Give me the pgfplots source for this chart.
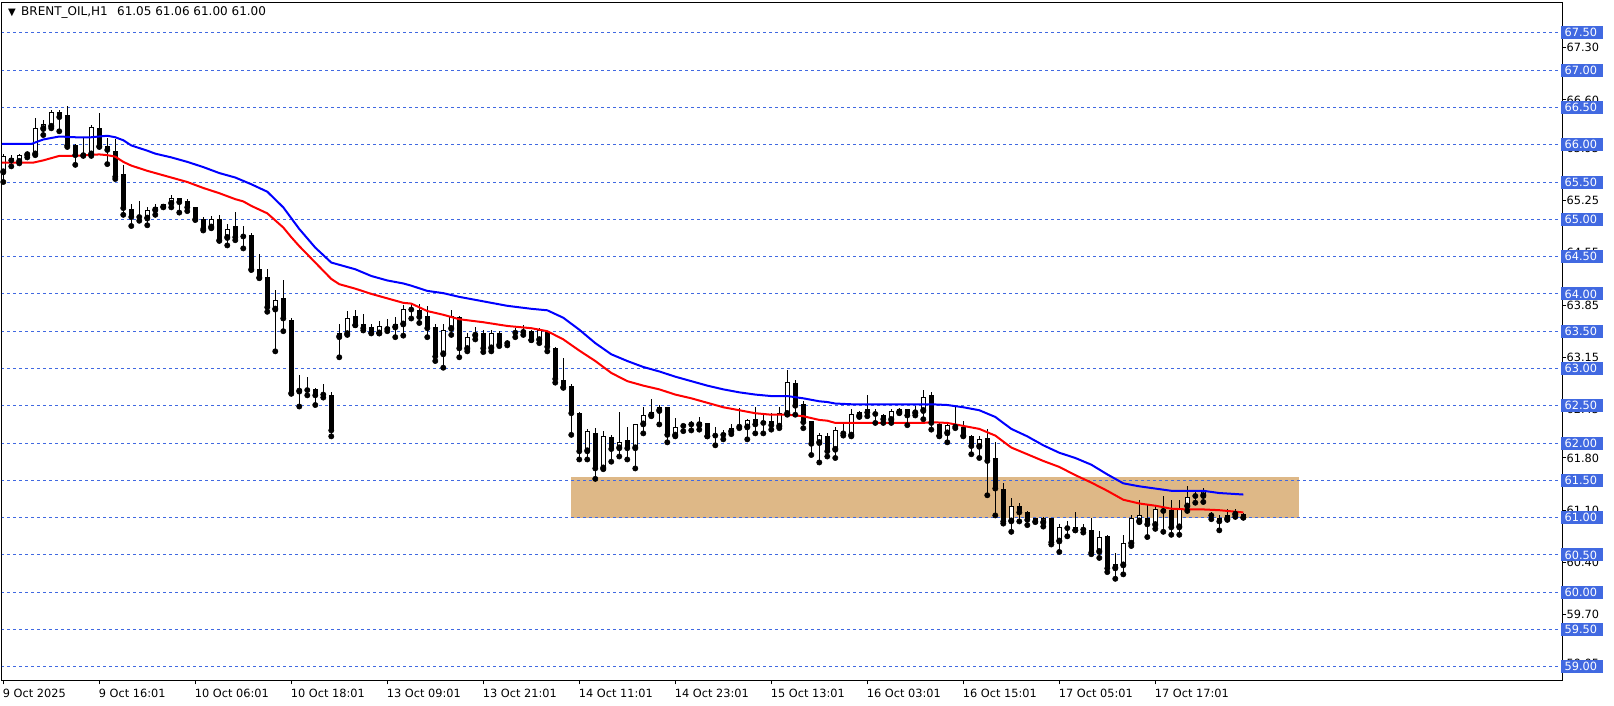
\documentclass[border=0pt]{standalone}
\usepackage{pgfplots}
\pgfplotsset{compat=1.18}
\usepackage{pgfplotstable}
\usepackage{fontspec}
\setmainfont{DejaVu Sans}
\definecolor{gridblue}{HTML}{4169E1}
\definecolor{boxtan}{HTML}{DEB887}
\definecolor{mablue}{HTML}{0000FF}
\definecolor{mared}{HTML}{FF0000}

\pgfplotstableread{
i O H L C
0 65.63 65.88 65.50 65.85
1 65.82 65.86 65.71 65.79
2 65.77 65.88 65.75 65.86
3 65.86 65.90 65.83 65.89
4 65.87 66.36 65.86 66.22
5 66.21 66.33 66.13 66.28
6 66.24 66.46 66.22 66.44
7 66.44 66.46 66.18 66.37
8 66.40 66.52 65.97 65.99
9 65.99 66.01 65.73 65.86
10 65.87 66.10 65.85 65.86
11 65.87 66.26 65.85 66.24
12 66.23 66.42 65.97 65.98
13 65.98 66.09 65.74 65.93
14 65.92 66.07 65.54 65.57
15 65.61 65.73 65.06 65.15
16 65.14 65.21 64.91 65.03
17 65.04 65.24 64.98 65.03
18 65.01 65.16 64.92 65.12
19 65.12 65.21 65.06 65.17
20 65.20 65.21 65.16 65.17
21 65.21 65.33 65.16 65.28
22 65.28 65.29 65.09 65.23
23 65.24 65.27 65.11 65.16
24 65.17 65.17 64.99 65.00
25 65.01 65.03 64.85 64.87
26 64.89 65.04 64.88 65.00
27 65.01 65.06 64.71 64.72
28 64.75 64.94 64.65 64.87
29 64.91 65.10 64.72 64.76
30 64.78 64.91 64.61 64.77
31 64.79 64.81 64.32 64.33
32 64.34 64.53 64.21 64.22
33 64.22 64.33 63.76 63.82
34 63.79 64.05 63.23 63.92
35 63.94 64.18 63.50 63.67
36 63.65 63.67 62.66 62.67
37 62.69 62.91 62.49 62.72
38 62.71 62.88 62.64 62.71
39 62.72 62.74 62.51 62.64
40 62.66 62.79 62.61 62.65
41 62.65 62.68 62.09 62.17
42 63.42 63.60 63.15 63.48
43 63.46 63.77 63.45 63.68
44 63.70 63.78 63.58 63.58
45 63.60 63.73 63.51 63.54
46 63.56 63.60 63.47 63.48
47 63.47 63.63 63.47 63.57
48 63.56 63.66 63.50 63.53
49 63.55 63.69 63.42 63.60
50 63.59 63.85 63.44 63.80
51 63.79 63.86 63.67 63.79
52 63.79 63.86 63.61 63.69
53 63.71 63.84 63.42 63.54
54 63.56 63.59 63.10 63.16
55 63.19 63.59 63.01 63.52
56 63.53 63.78 63.45 63.71
57 63.69 63.71 63.15 63.27
58 63.26 63.47 63.23 63.42
59 63.44 63.56 63.39 63.47
60 63.47 63.52 63.22 63.27
61 63.27 63.51 63.23 63.48
62 63.47 63.50 63.30 63.32
63 63.34 63.37 63.31 63.36
64 63.48 63.54 63.42 63.48
65 63.50 63.58 63.45 63.49
66 63.50 63.51 63.38 63.38
67 63.38 63.54 63.34 63.51
68 63.49 63.50 63.23 63.29
69 63.27 63.29 62.81 62.86
70 62.85 63.14 62.74 62.75
71 62.77 62.79 62.11 62.40
72 62.40 62.41 61.78 61.89
73 61.89 62.19 61.78 62.16
74 62.13 62.20 61.52 61.66
75 61.66 62.16 61.65 62.10
76 62.08 62.11 61.75 61.92
77 61.93 62.42 61.82 62.02
78 62.04 62.22 61.78 61.93
79 61.93 62.26 61.66 62.25
80 62.25 62.49 62.13 62.37
81 62.37 62.59 62.36 62.41
82 62.43 62.51 62.25 62.48
83 62.48 62.49 62.01 62.11
84 62.10 62.33 62.09 62.21
85 62.23 62.26 62.16 62.25
86 62.25 62.29 62.17 62.25
87 62.24 62.35 62.18 62.28
88 62.27 62.27 62.09 62.09
89 62.10 62.22 61.97 62.10
90 62.11 62.18 62.05 62.13
91 62.15 62.25 62.12 62.20
92 62.22 62.47 62.20 62.22
93 62.21 62.32 62.05 62.31
94 62.32 62.49 62.13 62.25
95 62.27 62.40 62.13 62.29
96 62.29 62.40 62.18 62.24
97 62.22 62.49 62.20 62.40
98 62.39 62.98 62.38 62.82
99 62.81 62.85 62.38 62.50
100 62.53 62.56 62.20 62.28
101 62.30 62.30 61.84 61.99
102 62.00 62.13 61.74 62.11
103 62.10 62.14 61.82 61.89
104 61.91 62.21 61.80 62.18
105 62.13 62.25 62.10 62.13
106 62.10 62.45 62.09 62.39
107 62.36 62.43 62.35 62.42
108 62.45 62.64 62.36 62.41
109 62.39 62.45 62.27 62.39
110 62.37 62.39 62.27 62.32
111 62.31 62.45 62.27 62.43
112 62.41 62.47 62.40 62.45
113 62.45 62.46 62.24 62.37
114 62.40 62.50 62.37 62.43
115 62.43 62.71 62.32 62.62
116 62.64 62.68 62.18 62.27
117 62.25 62.27 62.09 62.10
118 62.13 62.27 62.01 62.24
119 62.22 62.50 62.20 62.22
120 62.22 62.30 62.09 62.10
121 62.10 62.11 61.85 61.96
122 61.95 62.09 61.80 62.06
123 62.07 62.19 61.30 61.76
124 61.80 62.01 61.03 61.39
125 61.39 61.46 60.92 60.95
126 60.95 61.27 60.81 61.15
127 61.16 61.19 60.95 61.07
128 61.07 61.09 60.90 60.97
129 60.99 61.00 60.94 60.95
130 60.93 61.01 60.88 61.00
131 61.00 61.00 60.64 60.67
132 60.68 60.91 60.54 60.88
133 60.86 60.96 60.75 60.86
134 60.88 61.07 60.83 60.83
135 60.84 60.92 60.80 60.86
136 60.84 60.99 60.51 60.53
137 60.54 60.82 60.46 60.74
138 60.76 60.77 60.27 60.32
139 60.32 60.53 60.18 60.38
140 60.36 60.77 60.24 60.66
141 60.65 61.03 60.62 60.99
142 60.95 61.24 60.94 61.03
143 61.00 61.18 60.74 60.91
144 60.90 61.17 60.85 61.12
145 61.12 61.29 60.81 61.09
146 61.10 61.24 60.77 60.87
147 60.87 61.24 60.77 61.13
148 61.15 61.43 61.09 61.28
149 61.29 61.36 61.20 61.29
150 61.29 61.40 61.21 61.36
151 61.03 61.07 60.98 61.03
152 61.00 61.04 60.83 60.95
153 60.98 61.12 60.97 61.04
154 61.04 61.12 61.01 61.07
155 61.05 61.06 61.00 61.00
}\candles

\begin{document}
\begin{tikzpicture}
\useasboundingbox (0,0) rectangle (1210.5pt,529.5pt);
\begin{axis}[
  at={(1.5pt,18.75pt)}, anchor=south west,
  scale only axis, width=1170.75pt, height=508.5pt,
  xmin=-0.16, xmax=194.96, ymin=58.81, ymax=67.90,
  axis line style={line width=0.75pt, black},
  tick style={black, line width=0.75pt},
  tick align=outside, major tick length=2.5pt,
  xtick pos=bottom, ytick pos=right,
  yticklabel pos=right,
  /pgf/number format/assume math mode=true,
  every tick label/.append style={font=\fontsize{8.5pt}{10pt}\selectfont, text=black},
  xtick={0,12,24,36,48,60,72,84,96,108,120,132,144},
  xticklabels={9 Oct 2025,9 Oct 16:01,10 Oct 06:01,10 Oct 18:01,13 Oct 09:01,13 Oct 21:01,14 Oct 11:01,14 Oct 23:01,15 Oct 13:01,16 Oct 03:01,16 Oct 15:01,17 Oct 05:01,17 Oct 17:01},
  xticklabel style={anchor=north west, inner sep=0pt, xshift=-0.5pt, yshift=-3pt},
  ytick={59.05,59.70,60.40,61.10,61.80,62.45,63.15,63.85,64.55,65.25,65.95,66.60,67.30},
  yticklabels={59.05,59.70,60.40,61.10,61.80,62.45,63.15,63.85,64.55,65.25,65.95,66.60,67.30},
  yticklabel style={anchor=west, inner sep=0pt, xshift=0pt},
  extra y ticks={59,59.5,60,60.5,61,61.5,62,62.5,63,63.5,64,64.5,65,65.5,66,66.5,67,67.5},
  extra y tick labels={59.00,59.50,60.00,60.50,61.00,61.50,62.00,62.50,63.00,63.50,64.00,64.50,65.00,65.50,66.00,66.50,67.00,67.50},
  extra y tick style={major tick length=0pt, yticklabel style={fill=gridblue, text=white, anchor=west, inner xsep=2.6pt, inner ysep=0pt, text width=26.3pt, minimum height=9.75pt, align=left, xshift=-1.5pt}},
  unbounded coords=jump,
]
% support zone
\addplot[fill=boxtan, draw=none] coordinates {(71,61.0) (162,61.0) (162,61.55) (71,61.55)} --cycle;
% horizontal level lines
\addplot[gridblue, line width=0.75pt, dash pattern=on 2.25pt off 2.25pt] coordinates {
(-1,59) (200,59) (0,nan)
(-1,59.5) (200,59.5) (0,nan)
(-1,60) (200,60) (0,nan)
(-1,60.5) (200,60.5) (0,nan)
(-1,61) (200,61) (0,nan)
(-1,61.5) (200,61.5) (0,nan)
(-1,62) (200,62) (0,nan)
(-1,62.5) (200,62.5) (0,nan)
(-1,63) (200,63) (0,nan)
(-1,63.5) (200,63.5) (0,nan)
(-1,64) (200,64) (0,nan)
(-1,64.5) (200,64.5) (0,nan)
(-1,65) (200,65) (0,nan)
(-1,65.5) (200,65.5) (0,nan)
(-1,66) (200,66) (0,nan)
(-1,66.5) (200,66.5) (0,nan)
(-1,67) (200,67) (0,nan)
(-1,67.5) (200,67.5)
};
% wicks
\addplot[only marks, mark=none, error bars/.cd, y dir=plus, y explicit, error mark=none,
  error bar style={line width=0.75pt, draw=black}]
  table[x=i, y=L, y error plus expr={\thisrow{H}-\thisrow{L}}] {\candles};
% bodies
\addplot[only marks, mark=none, error bars/.cd, y dir=plus, y explicit, error mark=none,
  error bar style={line width=3.75pt, draw=black}]
  table[x=i, y expr={min(\thisrow{O},\thisrow{C})}, y error plus expr={max(abs(\thisrow{C}-\thisrow{O}),0.0134)}] {\candles};
% hollow (bullish) bodies
\addplot[only marks, mark=none, error bars/.cd, y dir=plus, y explicit, error mark=none,
  error bar style={line width=2.25pt, draw=white}]
  table[x=i, y expr={\thisrow{C}>\thisrow{O}+0.027 ? \thisrow{O}+0.0134 : nan}, y error plus expr={max(\thisrow{C}-\thisrow{O}-0.0268,0)}] {\candles};
% moving averages
\addplot[mared, line width=1.5pt] coordinates {
(-0.2,65.76) (3.75,65.76) (5,65.79) (7,65.85) (9,65.85) (12,65.87) (13,65.86) (14,65.84) (15,65.77) (16,65.72) (18,65.65) (19,65.62) (21,65.56) (23,65.50) (25,65.42) (27,65.35) (29,65.27) (30,65.24) (31,65.18) (33,65.08) (35,64.89) (36,64.76) (37,64.64) (39,64.42) (41,64.20) (42,64.13) (44,64.07) (46,64.00) (48,63.94) (50,63.88) (51,63.87) (53,63.77) (55,63.72) (57,63.66) (60,63.62) (63,63.57) (66,63.54) (68,63.50) (70,63.39) (72,63.24) (74,63.10) (76,62.94) (78,62.83) (80,62.77) (82,62.72) (84,62.65) (86,62.60) (88,62.54) (90,62.48) (92,62.44) (94,62.40) (96,62.38) (98,62.38) (100,62.36) (102,62.31) (103,62.30) (104,62.27) (106,62.27) (110,62.27) (115,62.27) (116,62.28) (118,62.27) (120,62.23) (122,62.19) (124,62.10) (126,61.94) (128,61.85) (130,61.76) (132,61.68) (134,61.57) (136,61.47) (138,61.36) (140,61.24) (142,61.19) (144,61.16) (146,61.12) (148,61.11) (150,61.11) (152,61.10) (155,61.07)
};
\addplot[mablue, line width=1.5pt] coordinates {
(-0.2,66.01) (3.5,66.01) (5,66.07) (7,66.11) (9,66.10) (11,66.10) (13,66.12) (14,66.10) (15,66.06) (16,65.99) (18,65.92) (19,65.88) (21,65.83) (23,65.77) (25,65.70) (27,65.62) (29,65.56) (31,65.47) (33,65.37) (35,65.16) (37,64.87) (39,64.62) (41,64.42) (42,64.39) (44,64.33) (46,64.24) (48,64.18) (50,64.14) (51,64.11) (53,64.04) (55,64.01) (57,63.96) (60,63.90) (63,63.84) (66,63.80) (68,63.78) (70,63.68) (72,63.52) (74,63.34) (76,63.19) (78,63.10) (80,63.02) (82,62.96) (84,62.89) (86,62.83) (88,62.77) (90,62.72) (92,62.68) (94,62.65) (96,62.63) (98,62.63) (100,62.60) (102,62.56) (103,62.55) (104,62.53) (106,62.52) (116,62.52) (118,62.51) (120,62.48) (122,62.44) (124,62.35) (126,62.19) (128,62.09) (130,61.97) (132,61.87) (134,61.80) (136,61.71) (138,61.58) (140,61.46) (142,61.42) (144,61.39) (146,61.36) (150,61.36) (152,61.33) (155,61.31)
};
\node[anchor=west, inner sep=0pt, font=\fontsize{9pt}{10pt}\selectfont] at (rel axis cs:0.0038,0.9867) {{\fontsize{7.5pt}{8pt}\selectfont ▼}\hspace{4pt}BRENT\_OIL,H1\hspace{7pt}61.05 61.06 61.00 61.00};
\end{axis}
\end{tikzpicture}
\end{document}
